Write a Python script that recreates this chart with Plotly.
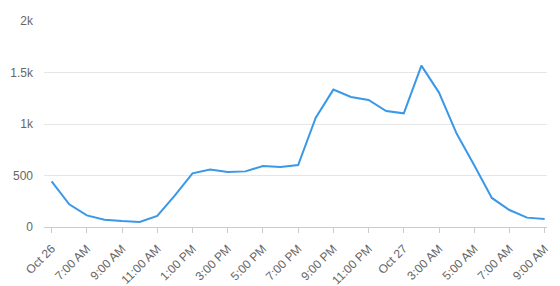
import plotly.graph_objects as go
import pandas as pd

times = pd.date_range("2023-10-26 05:00", "2023-10-27 09:00", freq="h")
values = [444, 220, 113, 71, 58, 49, 107, 308, 521, 557, 534, 540, 592, 583,
          602, 1062, 1334, 1262, 1233, 1126, 1104, 1567, 1305, 907, 599, 282,
          165, 91, 78]
tick_vals = pd.date_range("2023-10-26 05:00", "2023-10-27 09:00", freq="2h")
tick_text = ["Oct 26", "7:00 AM", "9:00 AM", "11:00 AM", "1:00 PM", "3:00 PM",
             "5:00 PM", "7:00 PM", "9:00 PM", "11:00 PM", "Oct 27", "3:00 AM",
             "5:00 AM", "7:00 AM", "9:00 AM"]
y_ticks = [0, 500, 1000, 1500, 2000]
y_text = ["0", "500", "1k", "1.5k", "2k"]

fig = go.Figure(go.Scatter(x=times, y=values, mode="lines",
                           line=dict(color="#3a98e8", width=2)))

fig.update_layout(
    width=560, height=286,
    margin=dict(l=44, r=13, t=21, b=59),
    paper_bgcolor="white", plot_bgcolor="white",
    showlegend=False,
    font=dict(family="Liberation Sans, Arial, sans-serif", size=12, color="#666666"),
)
fig.update_xaxes(
    range=[pd.Timestamp("2023-10-26 04:34"), pd.Timestamp("2023-10-27 09:08")],
    tickvals=tick_vals, ticktext=tick_text, tickangle=-45,
    showgrid=False, showline=True, linecolor="#cccccc", linewidth=1,
    ticks="outside", ticklen=5, tickcolor="#cccccc",
    zeroline=False, automargin=False, ticklabelstandoff=4,
)
fig.update_yaxes(
    range=[0, 2000], tickvals=y_ticks, ticktext=y_text,
    showgrid=True, gridcolor="#e6e6e6", gridwidth=1,
    zeroline=False, showline=False, ticklabelstandoff=10, automargin=False,
)
fig.write_html("out.html")
